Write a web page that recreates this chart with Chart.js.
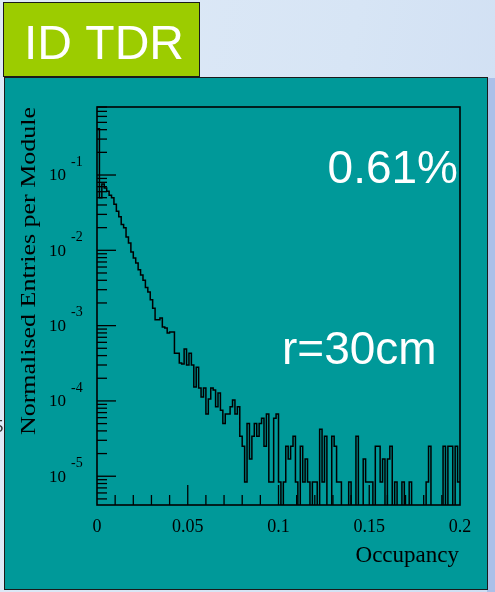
<!DOCTYPE html>
<html>
<head>
<meta charset="utf-8">
<script src="https://cdn.jsdelivr.net/npm/chart.js@4/dist/chart.umd.min.js"></script>
<style>
  html, body { margin: 0; padding: 0; }
  body {
    width: 495px; height: 592px; position: relative; overflow: hidden;
    background: linear-gradient(100deg, #dfeaf7 0%, #d7e5f5 60%, #cfdef3 100%);
  }
  #edge  { position: absolute; left: 487px; top: 78px; width: 8px; height: 514px; background: #abc0e9; }
  #panel { position: absolute; left: 4px; top: 77px; width: 482px; height: 511px;
           background: #009999; border: 1.5px solid #1a1a1a; }
  #tag   { position: absolute; left: 3px; top: 2px; width: 195px; height: 73px;
           background: #9ccc00; border: 1.5px solid #1a1a1a; }
  #wrap  { position: absolute; left: 0; top: 0; width: 495px; height: 592px; }
</style>
</head>
<body>
<div id="edge"></div>
<div id="panel"></div>
<div id="tag"></div>
<div id="wrap"><canvas id="canvas" width="495" height="592"></canvas></div>
<script>
// occupancy histogram, 150 bins between 0 and 0.2
var NBINS = 150;
var X_MAX = 0.2;
var entries = [
  0.41, 0.050, 0.076, 0.067, 0.061, 0.054, 0.050, 0.041, 0.033, 0.028,
  0.022, 0.020, 0.015, 0.0125, 0.0095, 0.0079, 0.0068, 0.0055, 0.0047, 0.0040,
  0.0032, 0.0028, 0.0022, 0.0017, 0.0012, 0.0012, 0.00126, 0.00096, 0.00093, 0.00080,
  0.00082, 0.00082, 0.00043, 0.00043, 0.00032, 0.00031, 0.00049, 0.00030, 0.00043, 0.00030,
  1.53e-4, 2.8e-4, 1.48e-4, 1.13e-4, 1.48e-4, 6.7e-5, 1.06e-4, 1.48e-4, 1.40e-4, 8.4e-5,
  1.27e-4, 7.5e-5, 5.0e-5, 6.7e-5, 6.7e-5, 8.4e-5, 1.03e-4, 6.7e-5, 8.4e-5, 3.4e-5,
  2.5e-5, 8.4e-6, 5.0e-5, 1.7e-5, 3.4e-5, 5.0e-5, 3.4e-5, 5.0e-5, 5.9e-5, 2.5e-5,
  6.7e-5, 8.4e-6, 8.4e-6, 5.9e-5, 6.7e-5, 8.4e-6, 0, 8.4e-6, 2.5e-5, 1.7e-5,
  2.5e-5, 3.4e-5, 8.4e-6, 0, 2.5e-5, 8.4e-6, 1.7e-5, 8.4e-6, 0, 8.4e-6,
  8.4e-6, 0, 4.2e-5, 8.4e-6, 3.4e-5, 0, 0, 3.4e-5, 2.5e-5, 8.4e-6,
  8.4e-6, 0, 0, 0, 8.4e-6, 0, 0, 3.4e-5, 0, 0,
  1.7e-5, 8.4e-6, 8.4e-6, 8.4e-6, 0, 2.5e-5, 2.5e-5, 8.4e-6, 1.7e-5, 0,
  1.7e-5, 2.5e-5, 0, 8.4e-6, 0, 0, 8.4e-6, 0, 0, 8.4e-6,
  0, 0, 0, 0, 0, 0, 8.4e-6, 2.5e-5, 0, 0,
  0, 0, 0, 2.5e-5, 0, 2.5e-5, 2.5e-5, 0, 2.5e-5, 8.4e-6
];

// axis ranges and labels
var Y_MIN = 4.15e-6;
var Y_MAX = 0.80;
var Y_FLOOR = 1e-7;   // empty bins drop below the frame
var yDecades = [-5, -4, -3, -2, -1];
var xMajor = [0, 0.05, 0.1, 0.15, 0.2];
var xMajorText = ['0', '0.05', '0.1', '0.15', '0.2'];

var points = [];
for (var i = 0; i < NBINS; i++) {
  points.push({ x: i * X_MAX / NBINS, y: Math.max(entries[i], Y_FLOOR) });
}
points.push({ x: X_MAX, y: Math.max(entries[NBINS - 1], Y_FLOOR) });

var serif = '"Liberation Serif", "Times New Roman", serif';
var sans = '"Liberation Sans", Arial, sans-serif';

function tick(ctx, x1, y1, x2, y2) {
  ctx.beginPath();
  ctx.moveTo(x1, y1);
  ctx.lineTo(x2, y2);
  ctx.stroke();
}

// ROOT style frame: ticks inside the box, 10^n labels, titles
var rootAxes = {
  id: 'rootAxes',
  afterDatasetsDraw: function(chart) {
    var ctx = chart.ctx, a = chart.chartArea;
    var xs = chart.scales.x, ys = chart.scales.y;
    ctx.save();
    ctx.strokeStyle = '#000';
    ctx.lineWidth = 1.6;
    ctx.strokeRect(a.left, a.top, a.right - a.left, a.bottom - a.top);

    ctx.lineWidth = 1.3;
    // y axis: decades and 2..9 subdivisions
    for (var e = -6; e <= 0; e++) {
      for (var k = 1; k <= 9; k++) {
        var v = k * Math.pow(10, e);
        if (v < Y_MIN || v > Y_MAX) continue;
        var py = ys.getPixelForValue(v);
        tick(ctx, a.left, py, a.left + (k === 1 ? 19 : 10), py);
      }
    }
    // x axis: every 0.01, longer at 0.05
    for (var j = 1; j < 20; j++) {
      var px = xs.getPixelForValue(j * 0.01);
      tick(ctx, px, a.bottom, px, a.bottom - (j % 5 === 0 ? 20 : 10));
    }

    ctx.fillStyle = '#000';
    // y labels
    yDecades.forEach(function(d) {
      var py = ys.getPixelForValue(Math.pow(10, d));
      ctx.font = '17px ' + serif;
      ctx.textAlign = 'right';
      ctx.textBaseline = 'middle';
      ctx.fillText('10', 66, py + 1);
      ctx.font = '14px ' + serif;
      ctx.textAlign = 'left';
      ctx.fillText(String(d), 71, py - 13);
    });
    // x labels
    ctx.font = '18px ' + serif;
    ctx.textAlign = 'center';
    ctx.textBaseline = 'alphabetic';
    xMajor.forEach(function(v, n) {
      ctx.fillText(xMajorText[n], xs.getPixelForValue(v), 531.5);
    });

    // axis titles
    ctx.font = '23px ' + serif;
    ctx.textAlign = 'right';
    ctx.fillText('Occupancy', a.right - 1, 562);
    ctx.save();
    ctx.translate(34.5, a.top);
    ctx.rotate(-Math.PI / 2);
    ctx.scale(1.18, 1);
    ctx.font = '22px ' + serif;
    ctx.fillText('Normalised Entries per Module', 0, 0);
    ctx.restore();

    // slide annotations
    ctx.fillStyle = '#fff';
    ctx.font = '46px ' + sans;
    ctx.textAlign = 'right';
    ctx.fillText('0.61%', 458, 183);
    ctx.textAlign = 'left';
    ctx.fillText('r=30cm', 282, 364);
    ctx.font = '48px ' + sans;
    ctx.fillText('ID TDR', 24, 59);
    ctx.fillStyle = '#333';
    ctx.font = '17px ' + sans;
    ctx.textAlign = 'right';
    ctx.fillText('5', 3.5, 432);
    ctx.restore();
  }
};

window.onload = function() {
  var ctx = document.getElementById('canvas').getContext('2d');
  window.occChart = new Chart(ctx, {
    type: 'line',
    data: {
      datasets: [{
        data: points,
        stepped: 'before',
        borderColor: '#000',
        borderWidth: 1.5,
        pointRadius: 0,
        fill: false
      }]
    },
    options: {
      responsive: false,
      animation: false,
      layout: { padding: { left: 97, right: 35, top: 107, bottom: 87 } },
      plugins: { legend: { display: false }, tooltip: { enabled: false } },
      scales: {
        x: { type: 'linear', min: 0, max: X_MAX, display: false },
        y: { type: 'logarithmic', min: Y_MIN, max: Y_MAX, display: false }
      }
    },
    plugins: [rootAxes]
  });
};
</script>
</body>
</html>
